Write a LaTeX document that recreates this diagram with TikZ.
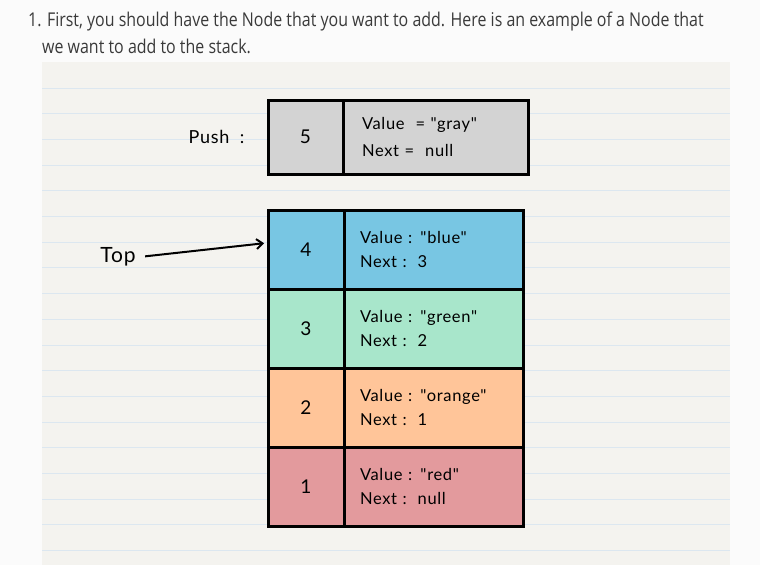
\documentclass[tikz,border=0pt]{standalone}
\usepackage{fontspec}
\setmainfont[FakeStretch=0.84]{Open Sans}
\newfontfamily\handfont[LetterSpace=4]{Lato}
\usetikzlibrary{positioning,arrows.meta}

\definecolor{pagebg}{HTML}{FBFBFB}
\definecolor{paperbg}{HTML}{F4F3EF}
\definecolor{ruleline}{HTML}{DCE7F0}
\definecolor{textgray}{HTML}{3A3A3A}
\definecolor{grayc}{HTML}{D3D3D3}
\definecolor{bluec}{HTML}{78C6E3}
\definecolor{greenc}{HTML}{A8E6CB}
\definecolor{orangec}{HTML}{FFC599}
\definecolor{redc}{HTML}{E39A9D}

\begin{document}
\begin{tikzpicture}[x=1pt,y=-1pt]
  \tikzset{
    node distance=0pt,
    keycell/.style={draw,line width=3pt,outer sep=0pt,minimum width=76pt,minimum height=79pt,
      font=\handfont\fontsize{19}{19}\selectfont},
    infocell/.style={draw,line width=3pt,outer sep=0pt,minimum height=79pt,inner xsep=16pt,
      align=left,text width=147pt,font=\handfont\fontsize{16.5}{24}\selectfont},
    hand/.style={font=\handfont\fontsize{18}{18}\selectfont}
  }

  % page and ruled paper
  \useasboundingbox (0,0) rectangle (760,565);
  \fill[pagebg] (0,0) rectangle (760,565);
  \fill[paperbg] (42,62) rectangle (730,565);
  \foreach \k in {0,...,18}
    \draw[ruleline,line width=1pt] (42,88+25.7*\k) -- (730,88+25.7*\k);

  \node[anchor=base west,inner sep=0pt,textgray,font=\fontsize{19}{19}\selectfont] (line1) at (28,26)
    {1. First, you should have the Node that you want to add. Here is an example of a Node that};
  \node[anchor=base west,inner sep=0pt,textgray,font=\fontsize{19}{19}\selectfont] (line2) at (42,53)
    {we want to add to the stack.};

  % node to push
  \node[keycell,fill=grayc,minimum height=74pt,minimum width=75pt] (key5) at (305.5,137) {5};
  \node[infocell,fill=grayc,minimum height=74pt,text width=147pt,inner xsep=19pt,right=of key5] (info5)
    {Value\ \ = "gray"\\[3pt]Next =\ \ null};
  \node[hand,left=20pt of key5] (push) {Push\ \ :};

  % the stack
  \node[keycell,fill=bluec] (key4) at (306,249.5) {4};
  \node[infocell,fill=bluec,right=of key4] (info4) {Value : "blue"\\Next :\ \ 3};
  \node[keycell,fill=greenc,below=of key4] (key3) {3};
  \node[infocell,fill=greenc,right=of key3] (info3) {Value : "green"\\Next :\ \ 2};
  \node[keycell,fill=orangec,below=of key3] (key2) {2};
  \node[infocell,fill=orangec,right=of key2] (info2) {Value : "orange"\\Next :\ \ 1};
  \node[keycell,fill=redc,below=of key2] (key1) {1};
  \node[infocell,fill=redc,right=of key1] (info1) {Value : "red"\\Next :\ \ null};

  \node[hand,font=\handfont\fontsize{21}{21}\selectfont] (top) at (118,257) {Top};
  \draw[line width=2pt,-{Straight Barb[length=6pt,width=10pt]},shorten >=4pt,shorten <=6pt] (top.east) -- (key4.170);
\end{tikzpicture}
\end{document}
